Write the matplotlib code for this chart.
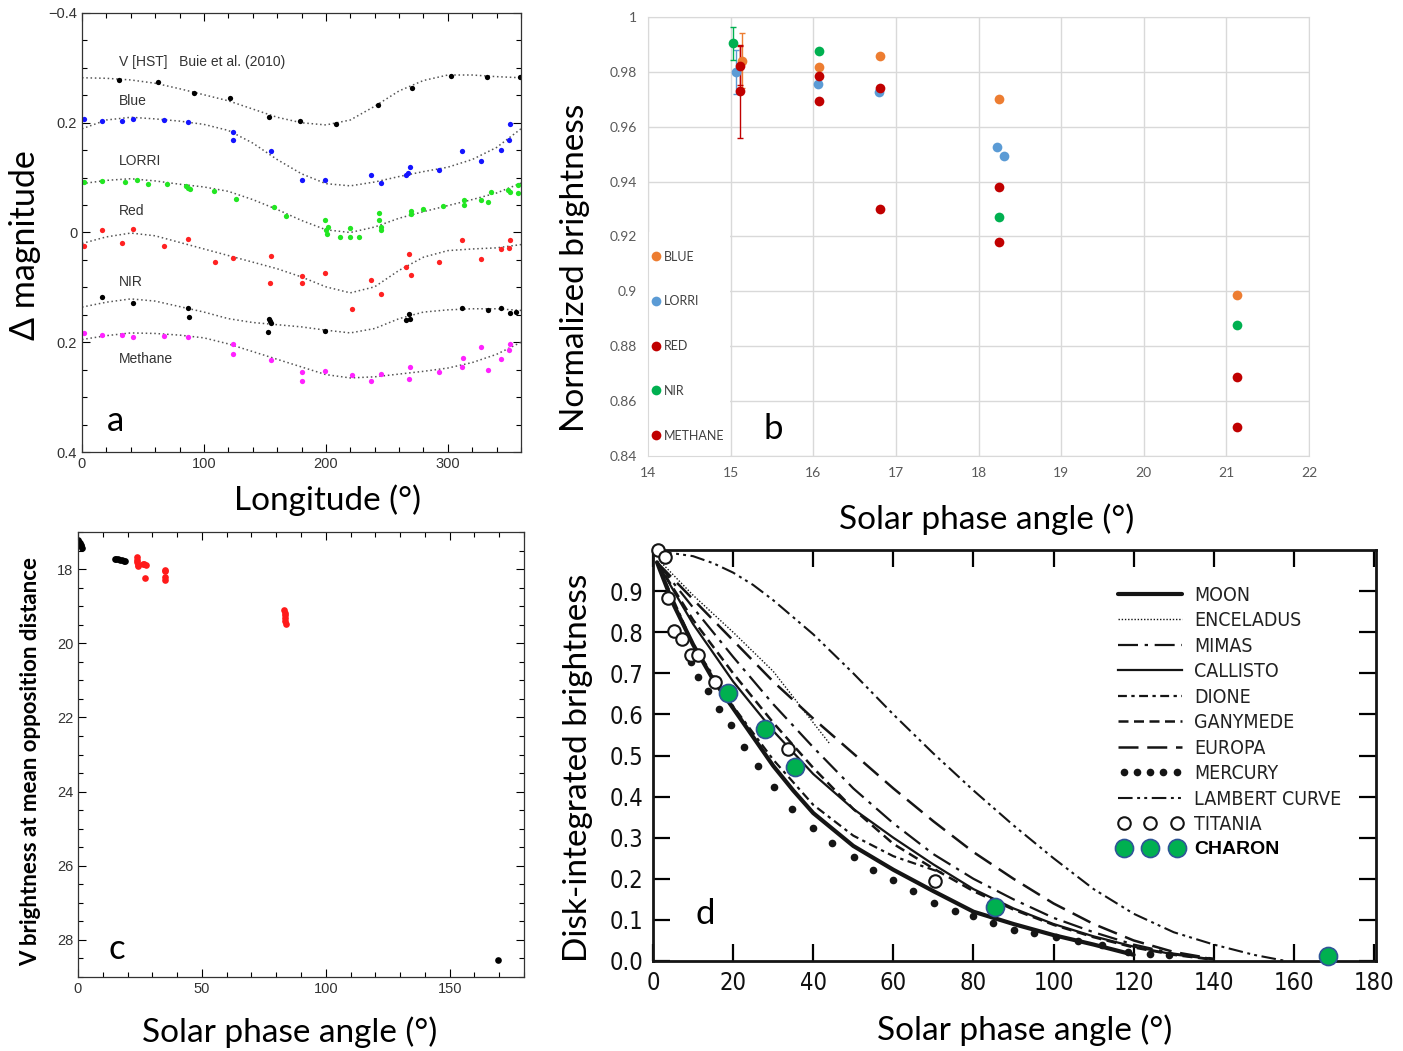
import numpy as np
import matplotlib
matplotlib.use("Agg")
import matplotlib.pyplot as plt
from matplotlib.patches import Rectangle
from matplotlib.legend_handler import HandlerLine2D
from matplotlib.ticker import MultipleLocator, FixedLocator
from matplotlib import font_manager
from matplotlib.font_manager import FontProperties

W, H = 1403, 1051
_fonts = font_manager.fontManager.ttflist
_names = {f.name for f in _fonts}
if "Liberation Sans Narrow" in _names:
    NARROW = dict(family="Liberation Sans Narrow", stretch="normal")
elif any(f.name == "DejaVu Sans" and str(f.stretch) == "condensed" for f in _fonts):
    NARROW = dict(family="DejaVu Sans", stretch="condensed")
else:
    NARROW = dict(family="Roboto", stretch="normal")
CAL = "Lato"
HELV = "Liberation Sans"

# ---------------- panel a : lightcurves ----------------
LON_GRID = [0, 20, 40, 60, 80, 100, 120, 140, 160, 180, 200, 220, 240, 260, 280, 300, 320, 340, 360]
V_FIT = [-0.282, -0.281, -0.278, -0.272, -0.262, -0.251, -0.240, -0.225, -0.210, -0.200, -0.196, -0.205,
         -0.230, -0.258, -0.277, -0.287, -0.287, -0.284, -0.282]
BLUE_FIT = [-0.189, -0.205, -0.210, -0.207, -0.203, -0.197, -0.186, -0.163, -0.133, -0.107, -0.089, -0.085,
            -0.092, -0.102, -0.111, -0.119, -0.133, -0.155, -0.189]
LORRI_FIT = [-0.089, -0.095, -0.098, -0.094, -0.088, -0.083, -0.075, -0.060, -0.042, -0.022, -0.005, 0.000,
             -0.010, -0.026, -0.038, -0.049, -0.060, -0.072, -0.090]
RED_FIT = [0.020, 0.008, 0.001, 0.006, 0.018, 0.030, 0.042, 0.054, 0.066, 0.081, 0.099, 0.110,
           0.099, 0.069, 0.045, 0.033, 0.030, 0.028, 0.022]
NIR_FIT = [0.136, 0.127, 0.121, 0.125, 0.135, 0.145, 0.157, 0.164, 0.168, 0.172, 0.178, 0.183,
           0.175, 0.157, 0.145, 0.141, 0.139, 0.139, 0.142]
CH4_FIT = [0.195, 0.188, 0.183, 0.184, 0.187, 0.192, 0.203, 0.217, 0.231, 0.245, 0.259, 0.265,
           0.263, 0.258, 0.253, 0.247, 0.237, 0.222, 0.200]

V_LON = [30.6, 62, 92, 121, 153, 179, 208, 243, 271, 303, 332, 359]
V_MAG = [-0.277, -0.275, -0.254, -0.245, -0.210, -0.204, -0.197, -0.232, -0.264, -0.286, -0.283, -0.283]
BLUE_LON = [1.9, 16.4, 32.8, 41.9, 67.5, 86.9, 123.6, 123.6, 155, 180.6, 199.4, 237, 245, 265.8, 267.5,
            269.2, 293, 312, 327, 344, 350, 351]
BLUE_MAG = [-0.206, -0.203, -0.203, -0.207, -0.205, -0.201, -0.184, -0.169, -0.148, -0.096, -0.095, -0.104,
            -0.090, -0.105, -0.108, -0.119, -0.114, -0.149, -0.131, -0.150, -0.169, -0.198]
LORRI_LON = [1.9, 16.7, 35.3, 45, 53.9, 69.7, 85.6, 87, 88.3, 108, 126.4, 157.5, 167.2, 198.9, 199.7,
             200.6, 201.7, 211.7, 219.7, 219.7, 227.2, 243.3, 243.9, 245.3, 245.3, 269.4, 270, 279.4,
             295.8, 313.6, 313.6, 327, 333.3, 335.8, 349.7, 350.6, 357.5, 357.5]
LORRI_MAG = [-0.092, -0.094, -0.092, -0.095, -0.089, -0.088, -0.085, -0.082, -0.079, -0.076, -0.061, -0.046,
             -0.030, -0.022, -0.004, 0.003, -0.010, 0.008, -0.009, 0.009, 0.009, -0.036, -0.022, -0.010,
             -0.004, -0.039, -0.034, -0.042, -0.048, -0.060, -0.051, -0.059, -0.055, -0.074, -0.077,
             -0.074, -0.086, -0.072]
RED_LON = [1.9, 16.4, 32.8, 41.9, 67.5, 86.9, 109.4, 123.6, 155, 153.9, 180.6, 180.6, 199.4, 221.4, 237,
           245.3, 265.8, 268, 269.4, 293, 312, 327, 344, 350, 351]
RED_MAG = [0.025, -0.004, 0.020, -0.006, 0.025, 0.011, 0.054, 0.046, 0.042, 0.092, 0.079, 0.092, 0.073,
           0.139, 0.087, 0.112, 0.062, 0.040, 0.078, 0.053, 0.013, 0.048, 0.030, 0.028, 0.013]
NIR_LON = [16.4, 41.9, 86.9, 87.5, 153.3, 153.9, 154.7, 152.8, 199.4, 265.3, 268, 269.2, 312, 333.3,
           343.6, 350.6, 356.1]
NIR_MAG = [0.118, 0.128, 0.137, 0.154, 0.157, 0.161, 0.165, 0.181, 0.179, 0.160, 0.148, 0.158, 0.138,
           0.141, 0.137, 0.146, 0.144]
CH4_LON = [1.9, 16.4, 32.8, 41.9, 67.5, 86.9, 123.6, 123.6, 155, 180.6, 180.6, 199.4, 221.4, 237, 245.3,
           269.2, 268, 293, 312, 312.5, 327, 333.3, 344, 350, 351]
CH4_MAG = [0.184, 0.187, 0.187, 0.190, 0.189, 0.190, 0.204, 0.221, 0.232, 0.254, 0.271, 0.252, 0.259,
           0.270, 0.258, 0.246, 0.267, 0.254, 0.245, 0.228, 0.209, 0.251, 0.230, 0.215, 0.203]
A_LABELS = ["V [HST]   Buie et al. (2010)", "Blue", "LORRI", "Red", "NIR", "Methane"]
A_LABEL_Y = [-0.311, -0.240, -0.130, -0.040, 0.090, 0.230]

# ---------------- panel b : New Horizons phase points ----------------
B_NAMES = ["BLUE", "LORRI", "RED", "NIR", "METHANE"]
B_COLORS = ["#ED7D31", "#5B9BD5", "#C00000", "#00B050", "#C00000"]
B_X = [[15.14, 16.07, 16.81, 18.25, 21.125],
       [15.06, 16.06, 16.79, 18.22, 18.31],
       [15.11, 16.07, 16.81, 18.25, 21.125],
       [15.03, 16.07, 18.25, 21.125],
       [15.11, 16.07, 16.81, 18.25, 21.125]]
B_Y = [[0.9841, 0.9819, 0.9857, 0.970, 0.8985],
       [0.980, 0.9755, 0.9728, 0.9528, 0.9494],
       [0.9823, 0.9784, 0.9743, 0.938, 0.8687],
       [0.9905, 0.9875, 0.9271, 0.8876],
       [0.9729, 0.9695, 0.9302, 0.918, 0.8505]]
B_ERR = [0.010, 0.008, 0.007, 0.006, 0.017]

# ---------------- panel c : V brightness vs phase ----------------
C_BLACK_X = [0.2, 0.5, 0.8, 1.1, 1.4, 1.7, 14.8, 15.5, 16.2, 17.0, 17.8, 18.5, 19.0, 169.4]
C_BLACK_Y = [17.22, 17.27, 17.31, 17.35, 17.38, 17.42, 17.73, 17.72, 17.74, 17.75, 17.76, 17.77, 17.77, 28.54]
C_RED_X = [23.8, 24.0, 23.9, 24.2, 24.1, 26.2, 26.8, 27.4, 26.9, 35.1, 35.2, 35.2, 35.3,
           83.2, 83.4, 83.5, 83.6, 83.7, 83.8]
C_RED_Y = [17.68, 17.75, 17.82, 17.88, 17.92, 17.86, 17.85, 17.88, 18.24, 18.02, 18.05, 18.22, 18.30,
           19.10, 19.18, 19.25, 19.33, 19.40, 19.48]

# ---------------- panel d : disk-integrated phase curves ----------------
D_X = [1, 10, 20, 30, 40, 50, 60, 70, 80, 90, 100, 110, 120, 130, 140]
MOON_X = [1, 5, 10, 15, 20, 25, 30, 35, 40, 50, 60, 70, 80, 90, 100, 110, 120]
MOON_Y = [0.97, 0.87, 0.77, 0.685, 0.615, 0.545, 0.475, 0.415, 0.36, 0.28, 0.222, 0.17, 0.12, 0.09,
          0.063, 0.04, 0.015]
ENCEL_X = [2, 10, 20, 30, 40, 44]
ENCEL_Y = [0.97, 0.89, 0.80, 0.705, 0.58, 0.53]
MIMAS_Y = [0.97, 0.86, 0.74, 0.625, 0.52, 0.42, 0.335, 0.26, 0.20, 0.15, 0.105, 0.07, 0.04, 0.018, 0.005]
CALL_Y = [0.97, 0.82, 0.68, 0.56, 0.455, 0.37, 0.30, 0.235, 0.175, 0.128, 0.09, 0.06, 0.035, 0.016, 0.004]
DIONE_X = [1, 10, 20, 30, 40, 50, 60, 72]
DIONE_Y = [0.97, 0.77, 0.62, 0.49, 0.38, 0.305, 0.255, 0.215]
GANY_Y = [0.97, 0.83, 0.70, 0.58, 0.47, 0.37, 0.285, 0.225, 0.17, 0.125, 0.088, 0.058, 0.033, 0.015, 0.003]
EUROPA_Y = [0.97, 0.88, 0.78, 0.68, 0.59, 0.505, 0.42, 0.34, 0.265, 0.20, 0.14, 0.09, 0.05, 0.022, 0.005]
LAMB_X = [1, 5, 10, 15, 20, 25, 30, 40, 50, 60, 70, 80, 90, 100, 110, 120, 130, 140, 150, 158]
LAMB_Y = [0.995, 0.992, 0.985, 0.968, 0.945, 0.915, 0.878, 0.795, 0.70, 0.60, 0.505, 0.415, 0.33, 0.25,
          0.175, 0.115, 0.07, 0.04, 0.015, 0.0]
MERC_X = [9.6, 11.2, 13.7, 16.6, 19.5, 22.6, 26.3, 30.1, 34.7, 39.9, 44.8, 50.1, 55.0, 59.9, 65.0, 70.2,
          75.3, 80.0, 84.9, 90.1, 95.2, 100.5, 106, 112, 118.7, 124, 128.7]
MERC_Y = [0.727, 0.691, 0.657, 0.614, 0.573, 0.521, 0.474, 0.423, 0.369, 0.324, 0.286, 0.252, 0.222, 0.198,
          0.170, 0.142, 0.122, 0.110, 0.093, 0.076, 0.067, 0.058, 0.048, 0.038, 0.022, 0.017, 0.014]
TITANIA_X = [1.25, 3.1, 3.7, 5.2, 7.2, 9.4, 11.2, 15.4, 33.6, 70.4]
TITANIA_Y = [1.001, 0.983, 0.882, 0.803, 0.784, 0.744, 0.744, 0.679, 0.517, 0.195]
CHARON_X = [18.7, 28.0, 35.5, 85.4, 168.4]
CHARON_Y = [0.653, 0.564, 0.472, 0.131, 0.011]


def box(l, t, r, b):
    return [l / W, 1 - b / H, (r - l) / W, (b - t) / H]


def ftxt(x, y, s, **kw):
    fig.text(x / W, 1 - y / H, s, ha="center", va="center", **kw)


fig = plt.figure(figsize=(W / 100, H / 100), dpi=100)

# ---- a
ax = fig.add_axes(box(82, 13, 521, 452))
series = [(V_FIT, V_LON, V_MAG, "black"), (BLUE_FIT, BLUE_LON, BLUE_MAG, "#1414ff"),
          (LORRI_FIT, LORRI_LON, LORRI_MAG, "#22e622"), (RED_FIT, RED_LON, RED_MAG, "#ff2222"),
          (NIR_FIT, NIR_LON, NIR_MAG, "black"), (CH4_FIT, CH4_LON, CH4_MAG, "#ff22ff")]
for fit, lon, mag, col in series:
    ax.plot(LON_GRID, fit, color="#555555", lw=1.1, ls=(0, (1, 1.8)))
    ax.plot(lon, mag, "o", color=col, ms=3.8, mec="none")
for s, yv in zip(A_LABELS, A_LABEL_Y):
    ax.text(30, yv, s, fontsize=10, color="#333333", family=HELV, va="center")
ax.set_xlim(0, 360)
ax.set_ylim(0.4, -0.4)
ax.set_xticks([0, 100, 200, 300])
ax.set_yticks([-0.4, -0.2, 0, 0.2, 0.4])
ax.set_yticklabels(["\u22120.4", "0.2", "0", "0.2", "0.4"])
ax.xaxis.set_minor_locator(MultipleLocator(20))
ax.yaxis.set_minor_locator(MultipleLocator(0.05))
ax.tick_params(which="both", direction="in", top=True, right=True, labelsize=10.5,
               labelcolor="#333333", width=0.8)
ax.tick_params(which="major", length=6)
ax.tick_params(which="minor", length=3.5)
for lab in ax.get_xticklabels() + ax.get_yticklabels():
    lab.set_family(HELV)
for sp in ax.spines.values():
    sp.set_linewidth(0.9)
    sp.set_color("#333333")

# ---- b
bx = fig.add_axes(box(648, 17, 1309, 456))
for name, col, xs, ys, err in zip(B_NAMES, B_COLORS, B_X, B_Y, B_ERR):
    bx.errorbar(xs[:1], ys[:1], yerr=[err], fmt="none", ecolor=col, elinewidth=1, capsize=2.5,
                capthick=1, zorder=3)
    bx.plot(xs, ys, "o", color=col, ms=7, mec="none", label=name, zorder=4)
bx.set_xlim(14, 22)
bx.set_ylim(0.84, 1.0)
bx.set_xticks(range(14, 23))
bx.set_yticks([0.84, 0.86, 0.88, 0.90, 0.92, 0.94, 0.96, 0.98, 1.0])
bx.set_yticklabels(["0.84", "0.86", "0.88", "0.9", "0.92", "0.94", "0.96", "0.98", "1"])
bx.grid(True, color="#d9d9d9", lw=1, zorder=0)
bx.set_axisbelow(True)
bx.tick_params(length=0, labelsize=10, labelcolor="#595959", pad=8)
for lab in bx.get_xticklabels() + bx.get_yticklabels():
    lab.set_family(CAL)
for sp in bx.spines.values():
    sp.set_color("#d9d9d9")
# white legend area (hides the horizontal grid left of 15 deg, as in the original)
bx.add_patch(Rectangle((14.0, 0.84), 0.993, 0.0815, facecolor="white", edgecolor="none", zorder=1))
leg = bx.legend(loc="upper left", bbox_to_anchor=(0.008, 0.468), borderaxespad=0, frameon=False,
                handlelength=0.5, handletextpad=0.35, labelspacing=2.62, borderpad=0,
                prop={"family": CAL, "size": 9})
for t in leg.get_texts():
    t.set_color("#404040")

# ---- c
cx = fig.add_axes(box(78, 532, 524, 977))
cx.plot(C_BLACK_X, C_BLACK_Y, "o", color="black", ms=4.8, mec="none")
cx.plot(C_RED_X, C_RED_Y, "o", color="#ff1a1a", ms=4.8, mec="none")
cx.set_xlim(0, 180)
cx.set_ylim(29, 17)
cx.set_xticks([0, 50, 100, 150])
cx.set_yticks([18, 20, 22, 24, 26, 28])
cx.xaxis.set_minor_locator(MultipleLocator(10))
cx.yaxis.set_minor_locator(MultipleLocator(0.5))
cx.tick_params(which="both", direction="in", top=True, right=True, labelsize=10.5,
               labelcolor="#333333", width=0.8)
cx.tick_params(which="major", length=6)
cx.tick_params(which="minor", length=3.5)
for lab in cx.get_xticklabels() + cx.get_yticklabels():
    lab.set_family(HELV)
for sp in cx.spines.values():
    sp.set_linewidth(0.9)
    sp.set_color("#333333")

# ---- d
dx = fig.add_axes(box(653, 550, 1376, 961))
k = "#151515"
h_moon, = dx.plot(MOON_X, MOON_Y, color=k, lw=3.0, solid_capstyle="round")
h_enc, = dx.plot(ENCEL_X, ENCEL_Y, color=k, lw=1.0, ls=(0, (1, 1.3)))
h_mim, = dx.plot(D_X, MIMAS_Y, color=k, lw=1.6, ls=(0, (9, 3, 1.5, 3)))
h_cal, = dx.plot(D_X, CALL_Y, color=k, lw=1.6)
h_dio, = dx.plot(DIONE_X, DIONE_Y, color=k, lw=1.6, ls=(0, (4, 2, 1.5, 2)))
h_gan, = dx.plot(D_X, GANY_Y, color=k, lw=1.8, ls=(0, (4, 2.2)))
h_eur, = dx.plot(D_X, EUROPA_Y, color=k, lw=1.8, ls=(0, (8, 3.5)))
h_mer, = dx.plot(MERC_X, MERC_Y, "o", color=k, ms=5.5, mec="none")
h_lam, = dx.plot(LAMB_X, LAMB_Y, color=k, lw=1.5, ls=(0, (7, 2.2, 1.4, 2, 1.4, 2.2)))
h_tit, = dx.plot(TITANIA_X, TITANIA_Y, "o", mfc="white", mec=k, mew=1.5, ms=9, zorder=5, clip_on=False)
h_cha, = dx.plot(CHARON_X, CHARON_Y, "o", mfc="#00B050", mec="#2F5597", mew=1.2, ms=13, zorder=6,
                 clip_on=False)
dx.set_xlim(0, 180.5)
dx.set_ylim(0, 1.0)
dx.xaxis.set_major_locator(FixedLocator(list(range(0, 181, 20))))
yt = [0.0, 0.1, 0.2, 0.3, 0.4, 0.5, 0.6, 0.7, 0.8, 0.9]
dx.yaxis.set_major_locator(FixedLocator(yt))
dx.set_yticklabels(["%.1f" % v for v in yt])
dx.tick_params(direction="in", top=True, right=True, length=12, width=1.6, labelsize=17,
               labelcolor="#111111", pad=7)
for lab in dx.get_xticklabels() + dx.get_yticklabels():
    lab.set_family(NARROW["family"])
    lab.set_fontstretch(NARROW["stretch"])
for sp in dx.spines.values():
    sp.set_linewidth(2)
    sp.set_color(k)
handles = [h_moon, h_enc, h_mim, h_cal, h_dio, h_gan, h_eur, h_mer, h_lam, h_tit, h_cha]
labels = ["MOON", "ENCELADUS", "MIMAS", "CALLISTO", "DIONE", "GANYMEDE", "EUROPA", "MERCURY",
          "LAMBERT CURVE", "TITANIA", "CHARON"]
dleg = dx.legend(handles, labels, loc="upper left", bbox_to_anchor=(0.630, 0.937), frameon=False,
                 handlelength=3.3, handletextpad=0.6, labelspacing=0.335, borderpad=0,
                 prop=FontProperties(family=NARROW["family"], stretch=NARROW["stretch"], size=14),
                 handler_map={h_mer: HandlerLine2D(numpoints=5), h_tit: HandlerLine2D(numpoints=3),
                              h_cha: HandlerLine2D(numpoints=3)})
for t in dleg.get_texts():
    t.set_color("#222222")
ct = dleg.get_texts()[-1]
ct.set_family(HELV)
ct.set_fontstretch("normal")
ct.set_weight("bold")
ct.set_color("black")

# ---- big labels and panel letters
ftxt(25, 245, "\u0394 magnitude", rotation=90, fontsize=24.5, family=CAL)
ftxt(328, 500, "Longitude (\u00b0)", fontsize=24, family=CAL)
ftxt(575, 268, "Normalized brightness", rotation=90, fontsize=24, family=CAL)
ftxt(987, 519, "Solar phase angle (\u00b0)", fontsize=24, family=CAL)
ftxt(31, 762, "V brightness at mean opposition distance", rotation=90, fontsize=16,
     family=CAL, weight="bold")
ftxt(290, 1032, "Solar phase angle (\u00b0)", fontsize=24, family=CAL)
ftxt(578, 768, "Disk-integrated brightness", rotation=90, fontsize=24, family=CAL)
ftxt(1025, 1030, "Solar phase angle (\u00b0)", fontsize=24, family=CAL)
ftxt(116, 421, "a", fontsize=25, family=CAL)
ftxt(773, 429, "b", fontsize=25, family=CAL)
ftxt(117, 949, "c", fontsize=25, family=CAL)
ftxt(705, 914, "d", fontsize=25, family=CAL)

fig.savefig("out.png", dpi=100)
